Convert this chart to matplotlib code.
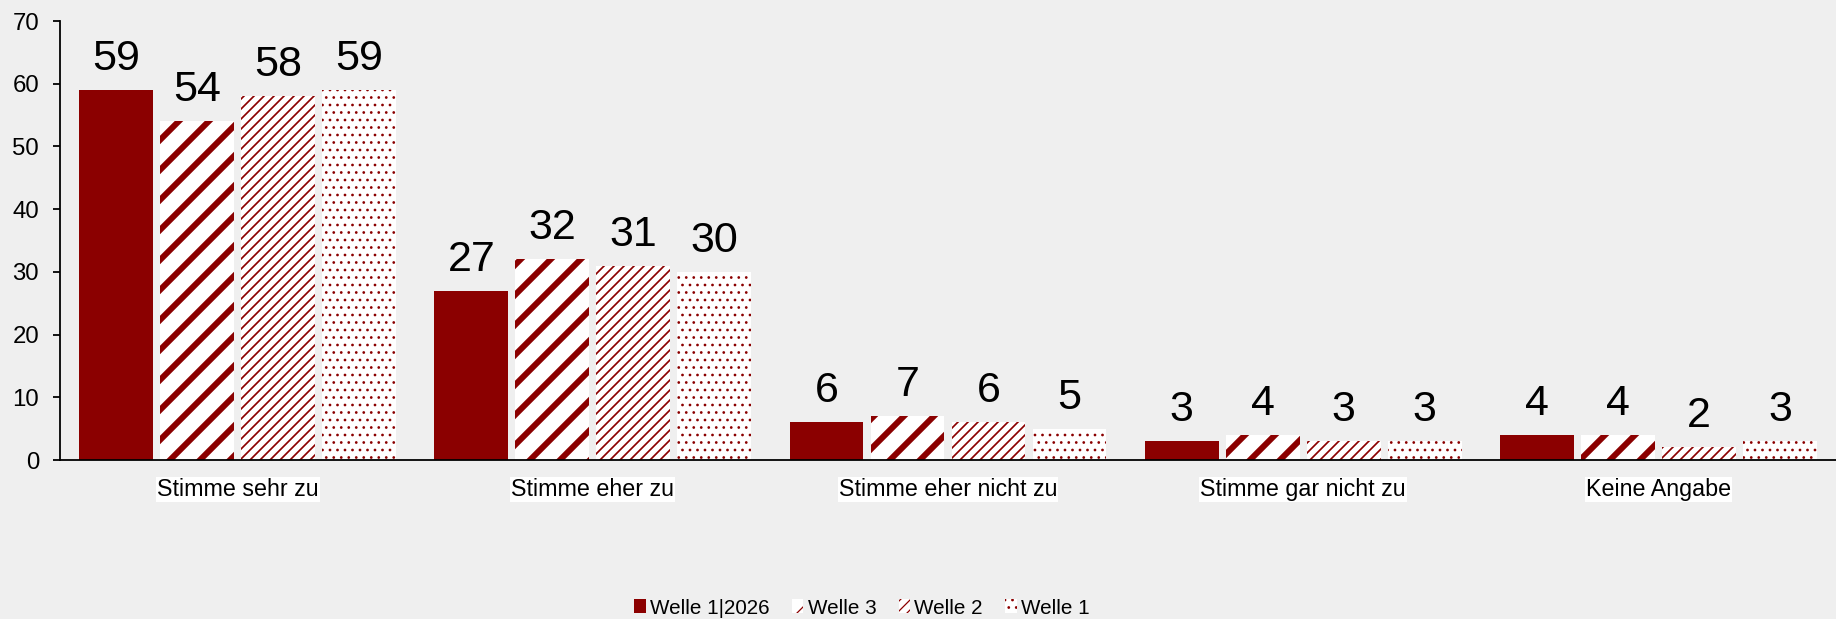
import matplotlib
matplotlib.use("Agg")
import matplotlib.pyplot as plt
import numpy as np

categories = ["Stimme sehr zu", "Stimme eher zu", "Stimme eher nicht zu",
              "Stimme gar nicht zu", "Keine Angabe"]
series_names = ["Welle 1|2026", "Welle 3", "Welle 2", "Welle 1"]
welle_2026 = [59, 27, 6, 3, 4]
welle_3 = [54, 32, 7, 4, 4]
welle_2 = [58, 31, 6, 3, 2]
welle_1 = [59, 30, 5, 3, 3]
y_ticks = [0, 10, 20, 30, 40, 50, 60, 70]

series_values = [welle_2026, welle_3, welle_2, welle_1]
RED = "#8B0000"
BG = "#EFEFEF"

DPI = 90
W, H = 1836, 619


def pt(px):
    return px * 72.0 / DPI


styles = [
    dict(facecolor=RED, hatch=None, hlw=1.0),
    dict(facecolor="white", hatch="/", hlw=pt(6.0)),
    dict(facecolor="white", hatch="///", hlw=pt(1.7)),
    dict(facecolor="white", hatch="..", hlw=pt(1.2)),
]

plt.rcParams["font.family"] = ["Liberation Sans", "DejaVu Sans"]
fig = plt.figure(figsize=(W / DPI + 1e-4, H / DPI + 1e-4), dpi=DPI, facecolor=BG)
ax = fig.add_axes([60 / W, 1 - 460 / H, 1 - 60 / W, (460 - 21) / H])
ax.set_facecolor(BG)

x = np.arange(len(categories))
width = 0.208
step = 0.228
handles = []
for k, (name, vals, st) in enumerate(zip(series_names, series_values, styles)):
    with plt.rc_context({"hatch.linewidth": st["hlw"]}):
        bars = ax.bar(x + (k - 1.5) * step, vals, width=width,
                      facecolor=st["facecolor"], edgecolor=RED, linewidth=0,
                      hatch=st["hatch"], label=name)
    for b in bars:
        if hasattr(b, "set_hatch_linewidth"):
            b.set_hatch_linewidth(st["hlw"])
    handles.append(bars)
    for b, v in zip(bars, vals):
        ax.annotate(str(v), (b.get_x() + b.get_width() / 2, v),
                    xytext=(0, pt(20)), textcoords="offset points",
                    ha="center", va="baseline", fontsize=pt(43), color="black")

ax.set_xlim(-0.5, 4.5)
ax.set_ylim(0, 70)
ax.set_yticks(y_ticks)
ax.set_xticks(x)
ax.set_xticklabels(categories, fontsize=pt(23.3))
for t in ax.get_xticklabels():
    t.set_bbox(dict(facecolor="white", edgecolor="none", boxstyle="square,pad=0.05"))
ax.tick_params(axis="x", length=0, pad=pt(18))
ax.tick_params(axis="y", length=pt(7), width=pt(1.8), pad=pt(14),
               labelsize=pt(24), direction="out")
for s in ["top", "right"]:
    ax.spines[s].set_visible(False)
for s in ["left", "bottom"]:
    ax.spines[s].set_linewidth(pt(1.8))
    ax.spines[s].set_color("black")

fig.legend(handles=handles, labels=series_names, loc="center",
           bbox_to_anchor=(862 / W, 1 - 608 / H), ncol=4, frameon=False,
           fontsize=pt(20.6), handlelength=0.55, handleheight=0.65,
           handletextpad=0.2, columnspacing=1.1, borderaxespad=0, borderpad=0)

fig.savefig("out.png", dpi=DPI, facecolor=BG)
